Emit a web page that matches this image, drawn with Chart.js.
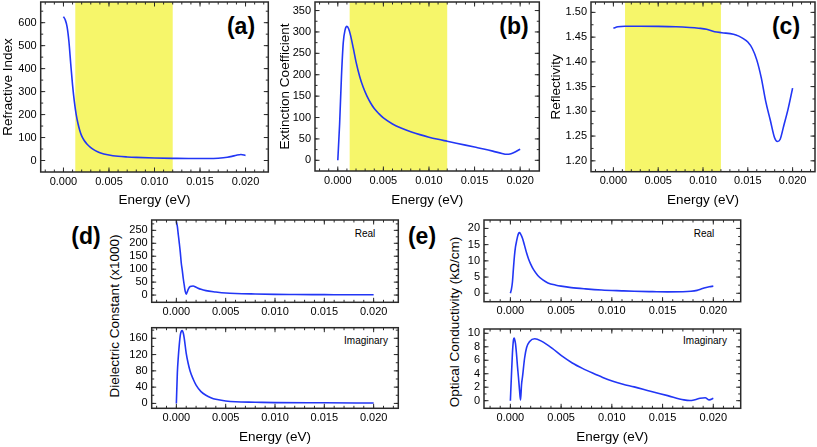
<!DOCTYPE html>
<html><head><meta charset="utf-8">
<script src="https://cdn.jsdelivr.net/npm/chart.js@4.4.1/dist/chart.umd.min.js"></script>
<style>
html,body{margin:0;padding:0;width:817px;height:447px;overflow:hidden;background:#fff;font-family:"Liberation Sans",Arial,sans-serif;}
canvas{position:absolute;}
.lbl{position:absolute;transform:translate(-50%,-50%);white-space:nowrap;color:#000;line-height:1;}
.panel{font-weight:bold;font-size:23px;}
.sub{font-size:10px;}
.ytitle{position:absolute;transform:translate(-50%,-50%) rotate(-90deg);white-space:nowrap;font-size:13.5px;color:#000;line-height:1;}
</style></head><body>
<div class="lbl panel" style="left:241px;top:26px">(a)</div>
<div class="lbl panel" style="left:514px;top:26px">(b)</div>
<div class="lbl panel" style="left:786px;top:26px">(c)</div>
<div class="lbl panel" style="left:86px;top:236px">(d)</div>
<div class="lbl panel" style="left:422px;top:236px">(e)</div>
<div class="lbl sub" style="left:365px;top:234px">Real</div>
<div class="lbl sub" style="left:366px;top:341px">Imaginary</div>
<div class="lbl sub" style="left:704px;top:234px">Real</div>
<div class="lbl sub" style="left:705px;top:341px">Imaginary</div>
<div class="ytitle" style="left:115px;top:316px">Dielectric Constant (x1000)</div>
<div class="ytitle" style="left:455px;top:322px">Optical Conductivity (kΩ/cm)</div>
<script>
// ---------- data ----------
const xTickValues = [0, 0.005, 0.010, 0.015, 0.020];
const bandRange = [0.0013, 0.012];

const energyA = [0, 0.0002, 0.0004, 0.0006, 0.0008, 0.001, 0.0012, 0.0014, 0.0016, 0.0018, 0.002, 0.0023, 0.0026, 0.003, 0.0035, 0.004, 0.005, 0.006, 0.007, 0.008, 0.010, 0.012, 0.014, 0.016, 0.017, 0.018, 0.0185, 0.019, 0.0195, 0.020];
const refractiveIndex = [626, 612, 582, 518, 420, 328, 255, 200, 160, 130, 107, 86, 71, 56, 43, 34, 24, 18.5, 15.5, 13.5, 11, 9.5, 8.5, 8.5, 10, 14, 18, 23, 26, 22];
const yTicksA = [0, 100, 200, 300, 400, 500, 600];

const energyB = [0, 0.0002, 0.0004, 0.0006, 0.0008, 0.001, 0.0012, 0.0014, 0.0017, 0.002, 0.0024, 0.0028, 0.0032, 0.0036, 0.004, 0.0045, 0.005, 0.006, 0.007, 0.008, 0.009, 0.010, 0.011, 0.012, 0.013, 0.014, 0.015, 0.016, 0.017, 0.018, 0.0185, 0.019, 0.0195, 0.020];
const extinction = [0, 85, 195, 275, 305, 313, 307, 292, 262, 230, 196, 170, 150, 134, 121, 109, 99, 85, 75, 67, 60, 54, 49, 44.5, 40, 35.5, 31, 26.5, 21.5, 16, 14, 15.5, 20, 26];
const yTicksB = [0, 50, 100, 150, 200, 250, 300, 350];

const energyC = [0, 0.0005, 0.0013, 0.003, 0.005, 0.007, 0.0085, 0.0095, 0.0104, 0.0113, 0.0121, 0.0134, 0.014, 0.0145, 0.015, 0.0155, 0.016, 0.0165, 0.017, 0.0175, 0.018, 0.0183, 0.0186, 0.019, 0.0195, 0.020];
const reflectivity = [1.468, 1.471, 1.472, 1.472, 1.4718, 1.471, 1.4695, 1.468, 1.466, 1.461, 1.459, 1.456, 1.452, 1.447, 1.440, 1.427, 1.404, 1.368, 1.320, 1.283, 1.246, 1.239, 1.243, 1.270, 1.305, 1.347];
const yTicksC = [1.20, 1.25, 1.30, 1.35, 1.40, 1.45, 1.50];

const energyDRe = [0, 0.0001, 0.0002, 0.0003, 0.0004, 0.0005, 0.0006, 0.0007, 0.0008, 0.0009, 0.001, 0.0011, 0.0012, 0.0014, 0.0017, 0.002, 0.0025, 0.003, 0.004, 0.005, 0.006, 0.008, 0.010, 0.012, 0.015, 0.018, 0.020];
const dielectricRe = [285, 265, 232, 200, 165, 123, 95, 64, 38, 14, 3, 12, 22, 33, 35, 30, 22, 17, 12, 8, 6, 4, 2.5, 2, 1.5, 1, 1];
const yTicksDRe = [0, 50, 100, 150, 200, 250];

const energyDIm = [0, 0.0001, 0.0002, 0.0003, 0.0004, 0.0005, 0.0006, 0.0007, 0.0008, 0.001, 0.0012, 0.0014, 0.0017, 0.002, 0.0025, 0.003, 0.0035, 0.004, 0.005, 0.006, 0.008, 0.010, 0.015, 0.020];
const dielectricIm = [0, 75, 115, 145, 168, 177, 179, 173, 160, 123, 98, 79, 60, 45, 29, 20, 14, 10, 6, 4, 3, 2, 1.5, 1];
const yTicksDIm = [0, 40, 80, 120, 160];

const energyERe = [0, 0.0001, 0.0002, 0.0003, 0.0004, 0.0005, 0.0006, 0.0007, 0.0008, 0.0009, 0.001, 0.0012, 0.0014, 0.0016, 0.0018, 0.002, 0.0023, 0.0027, 0.0032, 0.0037, 0.0045, 0.005, 0.006, 0.0074, 0.009, 0.011, 0.0122, 0.014, 0.0155, 0.017, 0.0178, 0.0184, 0.0188, 0.0192, 0.0196, 0.020];
const conductivityRe = [0, 1.2, 3.4, 7.6, 11.5, 14.2, 15.9, 17.4, 18.4, 18.7, 18.3, 16.9, 14.7, 12.4, 10.5, 9.0, 7.2, 5.5, 4.1, 3.2, 2.5, 2.2, 1.75, 1.35, 1.0, 0.75, 0.62, 0.5, 0.42, 0.45, 0.6, 0.9, 1.3, 1.7, 2.0, 2.2];
const yTicksERe = [0, 5, 10, 15, 20];

const energyEIm = [0, 0.0001, 0.0002, 0.0003, 0.00036, 0.0004, 0.0005, 0.0006, 0.0007, 0.0008, 0.0009, 0.001, 0.0011, 0.0012, 0.0014, 0.0016, 0.0019, 0.0024, 0.0031, 0.0041, 0.0051, 0.0061, 0.0071, 0.0081, 0.0091, 0.0101, 0.0111, 0.0122, 0.0138, 0.0155, 0.0171, 0.0177, 0.0182, 0.0187, 0.0192, 0.0196, 0.020];
const conductivityIm = [0, 3.6, 7.0, 9.0, 9.3, 9.2, 8.5, 7.0, 5.1, 3.4, 1.6, 0.1, 2.4, 3.6, 6.3, 7.9, 8.8, 9.2, 8.8, 7.8, 6.6, 5.6, 4.8, 4.1, 3.45, 2.9, 2.45, 2.05, 1.4, 0.75, 0.12, 0.02, 0.15, 0.35, 0.43, 0.12, 0.35];
const yTicksEIm = [0, 2, 4, 6, 8, 10];

// ---------- rendering ----------
Chart.defaults.font.family = '"Liberation Sans", Arial, sans-serif';
Chart.defaults.color = '#000';
const LINE = '#2236f5';
const YELLOW = 'rgb(246,246,106)';
const FRAME = '#2a2a2a';

function framePlugin(cfg) {
  return {
    id: 'frame_' + cfg.id,
    beforeDatasetsDraw(chart) {
      if (!cfg.band) return;
      const {ctx, chartArea: a, scales: {x}} = chart;
      const x0 = x.getPixelForValue(cfg.band[0]), x1 = x.getPixelForValue(cfg.band[1]);
      ctx.save(); ctx.fillStyle = YELLOW; ctx.fillRect(x0, a.top, x1 - x0, a.bottom - a.top); ctx.restore();
    },
    afterDraw(chart) {
      const {ctx, chartArea: a, scales: {x, y}} = chart;
      ctx.save();
      ctx.strokeStyle = FRAME;
      ctx.lineWidth = 1;
      const seg = (x0, y0, x1, y1) => { ctx.beginPath(); ctx.moveTo(x0, y0); ctx.lineTo(x1, y1); ctx.stroke(); };
      const xt = (v, len) => { const p = x.getPixelForValue(v); if (p <= a.left + 1 || p >= a.right - 1) return; seg(p, a.bottom, p, a.bottom - len); seg(p, a.top, p, a.top + len); };
      const yt = (v, len) => { const p = y.getPixelForValue(v); if (p <= a.top + 1 || p >= a.bottom - 1) return; seg(a.left, p, a.left + len, p); seg(a.right, p, a.right - len, p); };
      for (let k = Math.ceil(x.min / 0.001); k * 0.001 <= x.max; k++) xt(k * 0.001, 2.5);
      x.ticks.forEach(t => xt(t.value, 4.5));
      const ys = cfg.yMinor;
      for (let k = Math.ceil(y.min / ys); k * ys <= y.max; k++) yt(k * ys, 2.5);
      y.ticks.forEach(t => yt(t.value, 4.5));
      ctx.lineWidth = 1.5;
      ctx.strokeRect(a.left, a.top, a.right - a.left, a.bottom - a.top);
      ctx.restore();
    }
  };
}

function makeChart(cfg) {
  const [cx, cy, cw, ch] = cfg.box;
  const [L, T, R, B] = cfg.area;
  const cv = document.createElement('canvas');
  cv.width = cw; cv.height = ch;
  cv.style.left = cx + 'px'; cv.style.top = cy + 'px';
  cv.style.width = cw + 'px'; cv.style.height = ch + 'px';
  document.body.appendChild(cv);
  const yW = L - cx, xH = cy + ch - B;
  new Chart(cv, {
    type: 'line',
    data: { datasets: [{
      data: cfg.xs.map((v, i) => ({x: v, y: cfg.ys[i]})),
      borderColor: LINE, borderWidth: 1.6, pointRadius: 0, fill: false,
      cubicInterpolationMode: 'monotone'
    }]},
    options: {
      responsive: false, animation: false, devicePixelRatio: 1,
      layout: { padding: { left: 0, top: T - cy, right: cx + cw - R, bottom: 0 } },
      plugins: { legend: { display: false }, tooltip: { enabled: false } },
      scales: {
        x: {
          type: 'linear', min: cfg.xr[0], max: cfg.xr[1],
          grid: { display: false, drawTicks: false }, border: { display: false },
          ticks: { font: { size: 11 }, color: '#000', padding: 3, maxRotation: 0, autoSkip: false,
                   callback: v => Number(v).toFixed(3) },
          afterBuildTicks: s => { s.ticks = xTickValues.map(v => ({value: v})); },
          afterFit: s => { s.height = xH; },
          title: { display: !!cfg.xTitle, text: 'Energy (eV)', font: { size: 13.5 }, color: '#000', padding: 0 }
        },
        y: {
          type: 'linear', min: cfg.yr[0], max: cfg.yr[1],
          grid: { display: false, drawTicks: false }, border: { display: false },
          ticks: { font: { size: 11 }, color: '#000', padding: 4, autoSkip: false,
                   callback: v => Number(v).toFixed(cfg.yDec) },
          afterBuildTicks: s => { s.ticks = cfg.yTicks.map(v => ({value: v})); },
          afterFit: s => { s.width = yW; },
          title: { display: !!cfg.yTitle, text: cfg.yTitle || '', font: { size: 13.5 }, color: '#000', padding: 0 }
        }
      }
    },
    plugins: [framePlugin(cfg)]
  });
}

makeChart({id:'a', box:[0,-10,278,218], area:[40.7,2,268.3,172], xr:[-0.0025,0.0225], yr:[-50,690],
  xs:energyA, ys:refractiveIndex, yTicks:yTicksA, yDec:0, yMinor:50, yTitle:'Refractive Index', xTitle:true, band:bandRange});
makeChart({id:'b', box:[277,-10,272,218], area:[315,2,539.3,171], xr:[-0.0025,0.0221], yr:[-25,370],
  xs:energyB, ys:extinction, yTicks:yTicksB, yDec:0, yMinor:25, yTitle:'Extinction Coefficient', xTitle:true, band:bandRange});
makeChart({id:'c', box:[548,-10,269,218], area:[591,2,815,171.7], xr:[-0.0025,0.0225], yr:[1.178,1.521],
  xs:energyC, ys:reflectivity, yTicks:yTicksC, yDec:2, yMinor:0.025, yTitle:'Reflectivity', xTitle:true, band:bandRange});
makeChart({id:'dre', box:[100,208,308,114], area:[151.7,220,398.3,302.3], xr:[-0.0025,0.0225], yr:[-28,290],
  xs:energyDRe, ys:dielectricRe, yTicks:yTicksDRe, yDec:0, yMinor:25, xTitle:false});
makeChart({id:'dim', box:[100,315,308,130], area:[151.7,327.7,398.3,408.3], xr:[-0.0025,0.0225], yr:[-12,186],
  xs:energyDIm, ys:dielectricIm, yTicks:yTicksDIm, yDec:0, yMinor:20, xTitle:true});
makeChart({id:'ere', box:[440,208,311,114], area:[484,220,740.7,301.7], xr:[-0.0026,0.0227], yr:[-2.6,22.6],
  xs:energyERe, ys:conductivityRe, yTicks:yTicksERe, yDec:0, yMinor:2.5, xTitle:false});
makeChart({id:'eim', box:[440,317,311,128], area:[484,329,740.7,408.3], xr:[-0.0026,0.0227], yr:[-1.13,10.64],
  xs:energyEIm, ys:conductivityIm, yTicks:yTicksEIm, yDec:0, yMinor:1, xTitle:true});
</script>
</body></html>
